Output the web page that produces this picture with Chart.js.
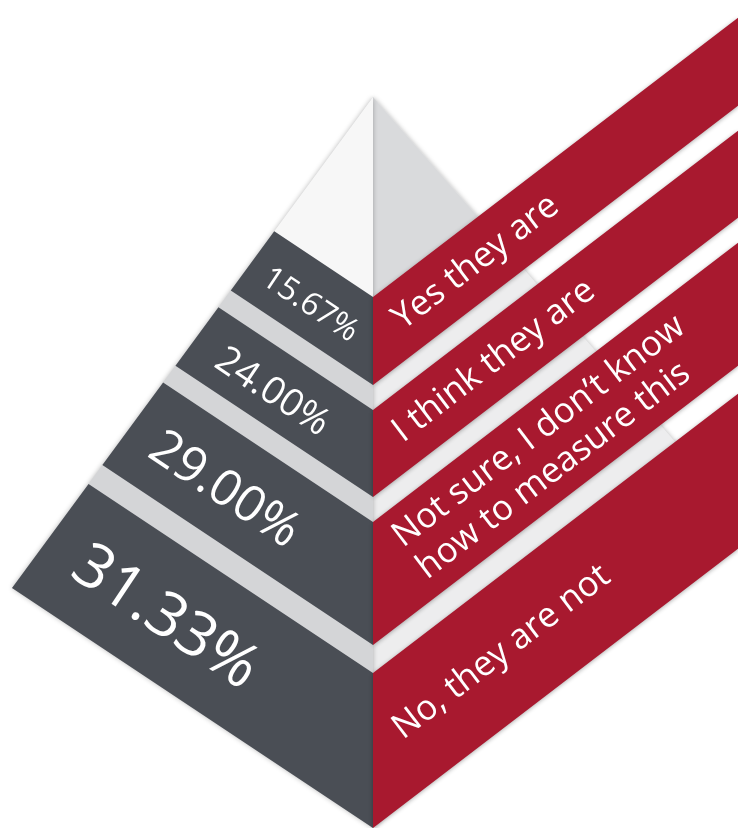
<!DOCTYPE html>
<html>
<head>
<meta charset="utf-8">
<style>
  html, body { margin: 0; padding: 0; background: #ffffff; }
  #wrap { width: 738px; height: 828px; }
</style>
</head>
<body>
<div id="wrap"><canvas id="pyramid" width="738" height="828"></canvas></div>
<script src="https://cdn.jsdelivr.net/npm/chart.js@4.4.1/dist/chart.umd.min.js"></script>
<script>
// survey answers, top layer first
const answers = ['Yes they are', 'I think they are', ['Not sure, I don\u2019t know', 'how to measure this'], 'No, they are not'];
const shares = [15.67, 24.00, 29.00, 31.33];

// pyramid outline, in canvas units (y grows downwards)
const mid = 373;
const apex = { x: 373, y: 97 };
const leftCorner = { x: 12, y: 588 };
const bottom = { x: 373, y: 828 };
const rightCorner = { x: 700, y: 470 };
const rightEdge = 738;

// where each layer meets the centre line: [top, bottom]
const layerSpans = [[297, 385], [410, 497], [522, 645], [673, 828]];
const faceSlope = (bottom.y - leftCorner.y) / (bottom.x - leftCorner.x);
const ribbonSlope = -0.765;

// label styling
const fontFamily = '"Open Sans", Lato, sans-serif';
const valueFontSize = [32, 38, 50, 62];
const valueCenterX = [310, 272, 224, 165];
const answerFontSize = 35;
const answerLineHeight = 40;
const answerInset = 24;

const colors = {
    layer: '#4a4e55',
    stripe: '#d4d5d7',
    capLeft: '#f7f7f7',
    capRight: '#d9dadc',
    rightFace: '#ededee',
    ribbon: '#a8192f',
};
const faceShadow = { color: 'rgba(0,0,0,0.28)', blur: 5, dx: 0, dy: 0 };
const ribbonShadow = { color: 'rgba(0,0,0,0.32)', blur: 4, dx: 0, dy: 1 };

// point on edge a-b that lies on the line y = c + k (x - mid)
const onEdge = (a, b, c, k) => {
    const f = (p) => p.y - c - k * (p.x - mid);
    const t = f(a) / (f(a) - f(b));
    return { x: a.x + t * (b.x - a.x), y: a.y + t * (b.y - a.y) };
};

const datasets = [];
const addShape = (pts, color, shadow) => datasets.push({
    type: 'line',
    data: [...pts, pts[0]],
    fill: 'shape',
    backgroundColor: color,
    borderWidth: 0,
    pointRadius: 0,
    tension: 0,
    order: -datasets.length,
    shadow,
});

// right face first, mostly hidden by the ribbons
addShape([apex, rightCorner, bottom], colors.rightFace, faceShadow);
const firstTop = layerSpans[0][0];
addShape([apex, { x: mid, y: firstTop }, onEdge(apex, rightCorner, firstTop, ribbonSlope)], colors.capRight);

// left face: light base, white cap, dark layers
addShape([apex, leftCorner, bottom], colors.stripe, faceShadow);
addShape([apex, onEdge(apex, leftCorner, firstTop, faceSlope), { x: mid, y: firstTop }], colors.capLeft);
layerSpans.forEach(([top, bot]) => {
    addShape([
        onEdge(apex, leftCorner, top, faceSlope),
        { x: mid, y: top },
        { x: mid, y: bot },
        onEdge(apex, leftCorner, bot, faceSlope),
    ], colors.layer);
});

// answer ribbons
const run = rightEdge - mid;
layerSpans.forEach(([top, bot]) => {
    addShape([
        { x: mid, y: top },
        { x: mid, y: bot },
        { x: rightEdge, y: bot + ribbonSlope * run },
        { x: rightEdge, y: top + ribbonSlope * run },
    ], colors.ribbon, ribbonShadow);
});

// the filler paints each shape in its own beforeDatasetDraw hook, which runs
// before ours; so the shadow for the next shape is armed after the previous one
const setShadow = (ctx, s) => {
    ctx.shadowColor = s ? s.color : 'rgba(0,0,0,0)';
    ctx.shadowBlur = s ? s.blur : 0;
    ctx.shadowOffsetX = s ? s.dx : 0;
    ctx.shadowOffsetY = s ? s.dy : 0;
};

const pyramidLabels = {
    id: 'pyramidLabels',
    beforeDatasetsDraw(chart) {
        setShadow(chart.ctx, chart.data.datasets[0].shadow);
    },
    beforeDatasetDraw(chart) {
        setShadow(chart.ctx, null);
    },
    afterDatasetDraw(chart, args) {
        const next = chart.data.datasets[args.index + 1];
        setShadow(chart.ctx, next && next.shadow);
    },
    afterDatasetsDraw(chart) {
        const { ctx, scales: { x, y } } = chart;
        setShadow(ctx, null);
        ctx.save();
        ctx.fillStyle = '#ffffff';

        shares.forEach((v, i) => {
            const [top, bot] = layerSpans[i];
            const cx = valueCenterX[i];
            const cy = (top + bot) / 2 + faceSlope * (cx - mid) + 6;
            ctx.save();
            ctx.translate(x.getPixelForValue(cx), y.getPixelForValue(cy));
            ctx.rotate(Math.atan(faceSlope));
            ctx.font = `400 ${valueFontSize[i]}px ${fontFamily}`;
            ctx.textAlign = 'center';
            ctx.textBaseline = 'middle';
            ctx.fillText(v.toFixed(2) + '%', 0, 0);
            ctx.restore();
        });

        answers.forEach((label, i) => {
            const [top, bot] = layerSpans[i];
            const ax = mid + answerInset;
            const ay = (top + bot) / 2 + ribbonSlope * answerInset;
            const lines = Array.isArray(label) ? label : [label];
            const firstY = -(lines.length - 1) / 2 * answerLineHeight;
            // left-aligned block whose first line starts at the inset
            const startX = firstY * ribbonSlope;
            ctx.save();
            ctx.translate(x.getPixelForValue(ax), y.getPixelForValue(ay));
            ctx.rotate(Math.atan(ribbonSlope));
            ctx.font = `400 ${answerFontSize}px ${fontFamily}`;
            ctx.textAlign = 'left';
            ctx.textBaseline = 'middle';
            lines.forEach((line, j) => {
                ctx.fillText(line, startX, firstY + j * answerLineHeight);
            });
            ctx.restore();
        });

        ctx.restore();
    },
};

new Chart(document.getElementById('pyramid'), {
    type: 'scatter',
    data: { datasets },
    options: {
        responsive: false,
        animation: false,
        events: [],
        layout: { padding: 0 },
        scales: {
            x: { type: 'linear', min: 0, max: 738, display: false },
            y: { type: 'linear', min: 0, max: 828, reverse: true, display: false },
        },
        plugins: { legend: { display: false }, tooltip: { enabled: false } },
    },
    plugins: [pyramidLabels],
});
</script>
</body>
</html>
